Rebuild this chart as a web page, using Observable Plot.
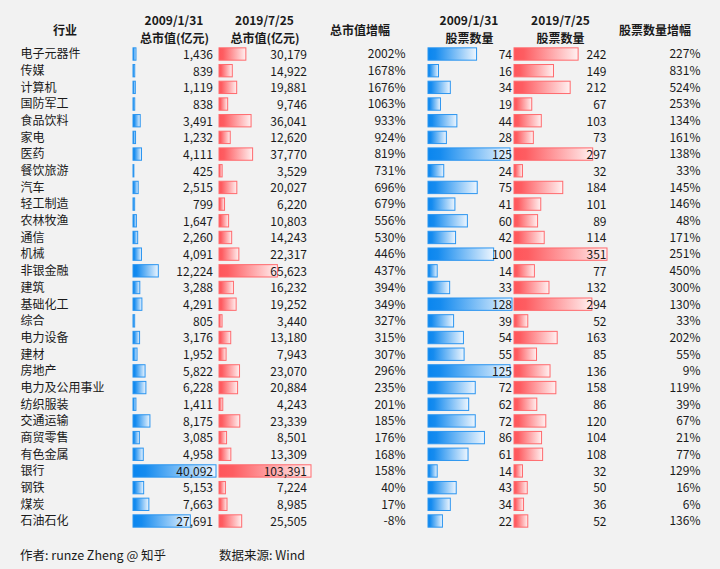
<!DOCTYPE html>
<html>
<head>
<meta charset="utf-8">
<script src="https://cdn.jsdelivr.net/npm/d3@7"></script>
<script src="https://cdn.jsdelivr.net/npm/@observablehq/plot@0.6"></script>
<style>
  html, body { margin: 0; padding: 0; background: #f2f2f2; }
  #root { position: relative; width: 720px; height: 569px; background: #f2f2f2; overflow: hidden;
          font-family: "Noto Sans CJK SC", "Noto Sans", sans-serif; color: #1a1a1a; }
  .hdr { position: absolute; font-weight: bold; font-size: 12px; line-height: 16px; white-space: nowrap; transform: translateX(-50%); }
  .ftr { position: absolute; font-size: 12.5px; line-height: 16px; white-space: nowrap; }
  #root svg { position: absolute; }
</style>
</head>
<body>
<div id="root"></div>
<script>
const industries = ["电子元器件","传媒","计算机","国防军工","食品饮料","家电","医药","餐饮旅游","汽车","轻工制造","农林牧渔","通信","机械","非银金融","建筑","基础化工","综合","电力设备","建材","房地产","电力及公用事业","纺织服装","交通运输","商贸零售","有色金属","银行","钢铁","煤炭","石油石化"];
const mv2009 = [1436,839,1119,838,3491,1232,4111,425,2515,799,1647,2260,4091,12224,3288,4291,805,3176,1952,5822,6228,1411,8175,3085,4958,40092,5153,7663,27691];
const mv2019 = [30179,14922,19881,9746,36041,12620,37770,3529,20027,6220,10803,14243,22317,65623,16232,19252,3440,13180,7943,23070,20884,4243,23339,8501,13309,103391,7224,8985,25505];
const mvGrowth = [2002,1678,1676,1063,933,924,819,731,696,679,556,530,446,437,394,349,327,315,307,296,235,201,185,176,168,158,40,17,-8];
const cnt2009 = [74,16,34,19,44,28,125,24,75,41,60,42,100,14,33,128,39,54,55,125,72,62,72,86,61,14,43,34,22];
const cnt2019 = [242,149,212,67,103,73,297,32,184,101,89,114,351,77,132,294,52,163,85,136,158,86,120,104,108,32,50,36,52];
const cntGrowth = [227,831,524,253,134,161,138,33,145,146,48,171,251,450,300,130,33,202,55,9,119,39,67,21,77,129,16,6,136];

const headerTop = ["2009/1/31","2019/7/25","2009/1/31","2019/7/25"];
const headerBottom = ["总市值(亿元)","总市值(亿元)","股票数量","股票数量"];
const headerSingle = ["行业","总市值增幅","股票数量增幅"];
const footerTexts = ["作者: runze Zheng @ 知乎","数据来源: Wind"];

const rows = industries.map((name, i) => ({
  industry: name, mv2009: mv2009[i], mv2019: mv2019[i], mvGrowth: mvGrowth[i],
  cnt2009: cnt2009[i], cnt2019: cnt2019[i], cntGrowth: cntGrowth[i]
}));

const root = document.getElementById("root");
const TOP = 44, H = 487;
const FONT = '"Noto Sans CJK SC", "Noto Sans", sans-serif';
const fmt = d3.format(",");
const yScale = {type: "band", domain: industries, range: [0, H], padding: 0.2, round: false, axis: null};

const grads = {
  blue: {c0: "#0a86ef", c1: "#eef6fe", stroke: "#2b95f0"},
  red: {c0: "#ff555a", c1: "#fff1f1", stroke: "#ff6a6e"}
};
let gid = 0;

function place(svg, left) {
  svg.style.left = left + "px";
  svg.style.top = TOP + "px";
  root.appendChild(svg);
}

function textColumn({left, width, text, anchor, dx = 0}) {
  const svg = Plot.plot({
    width, height: H, margin: 0,
    style: {background: "transparent", fontFamily: FONT, fontSize: "12px", color: "#1a1a1a", overflow: "visible"},
    y: yScale,
    marks: [
      Plot.text(rows, {y: "industry", text, frameAnchor: anchor, textAnchor: anchor === "left" ? "start" : "end", dx, fill: "#1a1a1a"})
    ]
  });
  place(svg, left);
}

function barColumn({left, width, field, barLen, color, textDx}) {
  const g = grads[color];
  const id = "grad" + (gid++);
  const svg = Plot.plot({
    width, height: H, margin: 0,
    style: {background: "transparent", fontFamily: FONT, fontSize: "12px", overflow: "visible"},
    y: yScale,
    x: {domain: [0, d3.max(rows, d => d[field])], range: [0, barLen], axis: null},
    marks: [
      Plot.barX(rows, {y: "industry", x: field, fill: `url(#${id})`, stroke: g.stroke, strokeWidth: 1, insetTop: 0.5, insetBottom: 0.5}),
      Plot.text(rows, {y: "industry", text: d => fmt(d[field]), frameAnchor: "right", textAnchor: "end", dx: textDx, dy: 0.5, fill: "#1a1a1a"})
    ]
  });
  d3.select(svg).insert("defs", ":first-child").html(
    `<linearGradient id="${id}" x1="0" y1="0" x2="1" y2="0">
       <stop offset="0" stop-color="${g.c0}"/>
       <stop offset="0.15" stop-color="${g.c0}" stop-opacity="0.95"/>
       <stop offset="1" stop-color="${g.c1}"/>
     </linearGradient>`);
  place(svg, left);
}

textColumn({left: 0, width: 130, text: "industry", anchor: "left", dx: 20});
barColumn({left: 133, width: 86, field: "mv2009", barLen: 83, color: "blue", textDx: -6.5});
barColumn({left: 219, width: 95, field: "mv2019", barLen: 92, color: "red", textDx: -7.5});
textColumn({left: 311, width: 94, text: d => d.mvGrowth + "%", anchor: "right"});
barColumn({left: 428, width: 86, field: "cnt2009", barLen: 84, color: "blue", textDx: -2.5});
barColumn({left: 514, width: 95, field: "cnt2019", barLen: 93, color: "red", textDx: -3});
textColumn({left: 609, width: 91, text: d => d.cntGrowth + "%", anchor: "right"});

function hdr(txt, cx, cy) {
  const d = document.createElement("div");
  d.className = "hdr"; d.textContent = txt;
  d.style.left = cx + "px"; d.style.top = (cy - 8) + "px";
  root.appendChild(d);
}
const topCx = [174, 264.5, 469, 560.5];
const botCx = [174.5, 265, 469.5, 560.5];
headerTop.forEach((t, i) => hdr(t, topCx[i], 20.2));
headerBottom.forEach((t, i) => hdr(t, botCx[i], 37.8));
const singleCx = [65, 360, 655];
headerSingle.forEach((t, i) => hdr(t, singleCx[i], 29.5));

const footLeft = [20, 219];
footerTexts.forEach((t, i) => {
  const d = document.createElement("div");
  d.className = "ftr"; d.textContent = t;
  d.style.left = footLeft[i] + "px"; d.style.top = (555 - 8) + "px";
  root.appendChild(d);
});
</script>
</body>
</html>
